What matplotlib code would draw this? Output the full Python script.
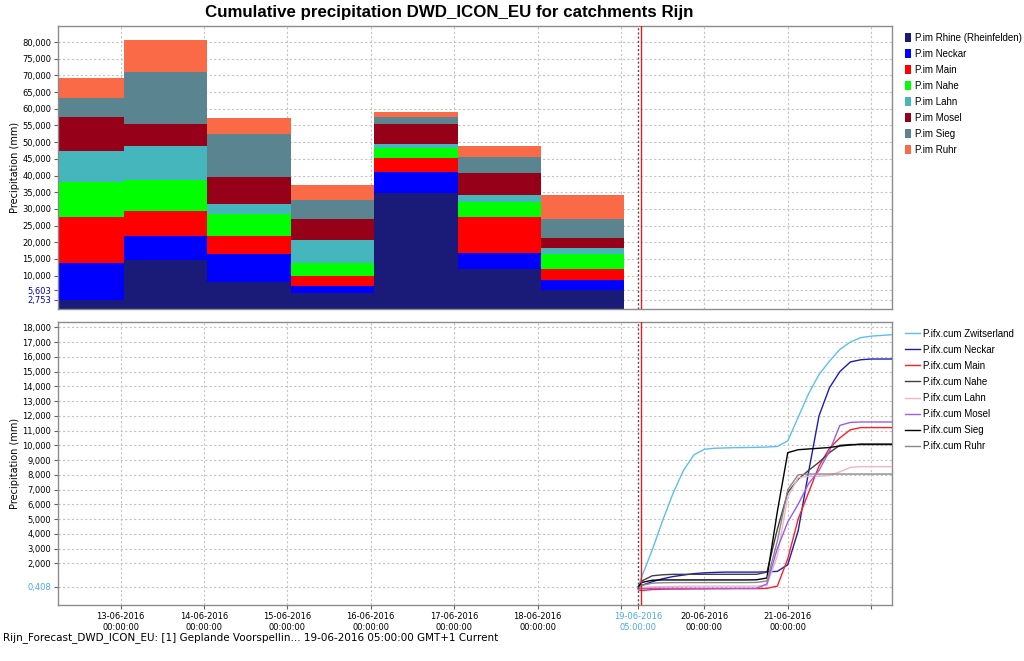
import matplotlib
matplotlib.use('Agg')
import matplotlib.pyplot as plt
import matplotlib.dates as mdates
from matplotlib.patches import Patch
from matplotlib.lines import Line2D
from datetime import datetime, timedelta

# ---------------- data ----------------
bar_starts = ['2016-06-12 01:00', '2016-06-13 01:00', '2016-06-14 01:00', '2016-06-15 01:00',
              '2016-06-16 01:00', '2016-06-17 01:00', '2016-06-18 01:00']
bar_names = ['P.im Rhine (Rheinfelden)', 'P.im Neckar', 'P.im Main', 'P.im Nahe',
             'P.im Lahn', 'P.im Mosel', 'P.im Sieg', 'P.im Ruhr']
rhine  = [2.753, 14.7, 8.2, 4.9, 34.7, 11.9, 5.603]
neckar = [11.05, 7.2, 8.3, 1.9, 6.4, 5.0, 3.0]
main_  = [13.8, 7.4, 5.4, 3.1, 4.2, 10.6, 3.3]
nahe   = [10.4, 9.5, 6.6, 3.8, 3.0, 4.6, 4.6]
lahn   = [9.4, 10.15, 3.0, 7.0, 1.2, 2.0, 1.9]
mosel  = [10.1, 6.55, 8.1, 6.3, 6.0, 6.8, 2.9]
sieg   = [5.7, 15.5, 12.9, 5.6, 2.0, 4.5, 5.8]
ruhr   = [6.0, 9.6, 4.7, 4.7, 1.5, 3.5, 7.2]
bar_colors = ['#1a1a78', '#0000ff', '#ff0000', '#00ff00', '#44b6bc', '#960018', '#5a8490', '#fa6a46']

# forecast: hours after 19-06-2016 00:00
fc_hours = [5, 6, 9, 12, 15, 18, 21, 24, 27, 30, 33, 36, 39, 42, 45, 48, 51, 54, 57, 60, 63, 66, 69, 72, 75, 78]
line_names = ['P.ifx.cum Zwitserland', 'P.ifx.cum Neckar', 'P.ifx.cum Main', 'P.ifx.cum Nahe',
              'P.ifx.cum Lahn', 'P.ifx.cum Mosel', 'P.ifx.cum Sieg', 'P.ifx.cum Ruhr']
zwitserland = [0.408, 1.1, 2.9, 4.9, 6.75, 8.3, 9.35, 9.73, 9.8, 9.82, 9.84, 9.85, 9.86, 9.88, 9.92,
               10.3, 11.9, 13.5, 14.8, 15.7, 16.5, 17.0, 17.3, 17.4, 17.45, 17.5]
f_neckar = [0.3, 0.5, 0.75, 0.95, 1.1, 1.2, 1.3, 1.35, 1.38, 1.4, 1.4, 1.4, 1.4, 1.42, 1.45,
            1.9, 4.2, 8.2, 12.0, 13.9, 15.0, 15.65, 15.8, 15.85, 15.85, 15.85]
f_main = [0.2, 0.15, 0.22, 0.24, 0.25, 0.25, 0.26, 0.26, 0.27, 0.27, 0.28, 0.28, 0.28, 0.3, 0.45,
          2.3, 5.0, 6.8, 8.6, 9.8, 10.5, 11.05, 11.2, 11.2, 11.2, 11.2]
f_nahe = [0.3, 0.8, 1.15, 1.22, 1.25, 1.25, 1.25, 1.25, 1.25, 1.25, 1.25, 1.25, 1.25, 1.4, 4.3,
          6.8, 7.7, 8.3, 8.85, 9.5, 10.0, 10.05, 10.05, 10.05, 10.05, 10.05]
f_lahn = [0.3, 0.35, 0.4, 0.42, 0.43, 0.44, 0.45, 0.45, 0.45, 0.45, 0.45, 0.45, 0.45, 0.5, 2.5,
          6.5, 7.8, 7.9, 7.9, 7.95, 8.2, 8.5, 8.55, 8.55, 8.55, 8.55]
f_mosel = [0.24, 0.28, 0.3, 0.3, 0.3, 0.3, 0.3, 0.3, 0.3, 0.3, 0.3, 0.3, 0.3, 0.6, 3.0,
           4.8, 6.0, 7.4, 8.3, 9.6, 11.35, 11.55, 11.58, 11.58, 11.58, 11.58]
f_sieg = [0.42, 0.7, 0.85, 0.87, 0.87, 0.87, 0.87, 0.87, 0.87, 0.87, 0.87, 0.87, 0.88, 1.0, 5.5,
          9.5, 9.7, 9.75, 9.8, 9.85, 9.95, 10.02, 10.08, 10.08, 10.08, 10.08]
f_ruhr = [0.3, 0.5, 0.65, 0.68, 0.69, 0.69, 0.69, 0.69, 0.69, 0.69, 0.69, 0.69, 0.7, 0.8, 3.5,
          7.0, 8.0, 8.05, 8.05, 8.05, 8.05, 8.05, 8.05, 8.05, 8.05, 8.05]
line_colors = ['#5cc0ec', '#1c1cb8', '#ff2020', '#404040', '#f4b4c8', '#9a5cf0', '#000000', '#888888']

top_yticks = [2.753, 5.603, 10, 15, 20, 25, 30, 35, 40, 45, 50, 55, 60, 65, 70, 75, 80]
bot_yticks = [0.408, 2, 3, 4, 5, 6, 7, 8, 9, 10, 11, 12, 13, 14, 15, 16, 17, 18]
day_ticks = ['2016-06-13', '2016-06-14', '2016-06-15', '2016-06-16', '2016-06-17',
             '2016-06-18', '2016-06-19', '2016-06-20', '2016-06-21', '2016-06-22']
forecast_time = '2016-06-19 05:00'
title = 'Cumulative precipitation DWD_ICON_EU for catchments Rijn'
footer = 'Rijn_Forecast_DWD_ICON_EU: [1] Geplande Voorspellin... 19-06-2016 05:00:00 GMT+1 Current'

# ---------------- figure ----------------
W, H = 1024, 661
fig = plt.figure(figsize=(W / 100, H / 100), dpi=100)
fig.patch.set_facecolor('white')
L, R = 58, 892
ax1 = fig.add_axes([L / W, 1 - 309 / H, (R - L) / W, (309 - 26) / H])
ax2 = fig.add_axes([L / W, 1 - 605 / H, (R - L) / W, (605 - 322) / H])

xmin = datetime(2016, 6, 12, 6)
xmax = datetime(2016, 6, 22, 6)
fmt = '%Y-%m-%d %H:%M'
t_fc = datetime.strptime(forecast_time, fmt)
days = [datetime.strptime(d, '%Y-%m-%d') for d in day_ticks]

grid_kw = dict(color='#c4c4c4', linestyle=(0, (2, 2)), linewidth=0.8)
tick_font = dict(fontsize=6, family='DejaVu Sans')
leg_family = ['Liberation Sans', 'DejaVu Sans']


def fmt_num(v):
    return f'{v:.3f}'.replace('.', ',')


# ---- top panel: stacked bars ----
series = [rhine, neckar, main_, nahe, lahn, mosel, sieg, ruhr]
starts = [mdates.date2num(datetime.strptime(s, fmt)) for s in bar_starts]
bottom = [0.0] * len(starts)
for vals, col, name in zip(series, bar_colors, bar_names):
    ax1.bar(starts, vals, width=1.0, bottom=bottom, align='edge', color=col,
            edgecolor='none', linewidth=0, label=name, zorder=2)
    bottom = [b + v for b, v in zip(bottom, vals)]

ax1.set_ylim(0, 84.8)
ax1.set_yticks(top_yticks)
ax1.set_yticklabels([fmt_num(v) for v in top_yticks], **tick_font)
for lbl, v in zip(ax1.get_yticklabels(), top_yticks):
    if v in (2.753, 5.603):
        lbl.set_color('#0000d0')

# ---- bottom panel: lines ----
fc_series = [zwitserland, f_neckar, f_main, f_nahe, f_lahn, f_mosel, f_sieg, f_ruhr]
t0 = datetime(2016, 6, 19)
fc_times = [t0 + timedelta(hours=h) for h in fc_hours]
for vals, col, name in zip(fc_series, line_colors, line_names):
    ax2.plot(fc_times, vals, color=col, linewidth=1.0, label=name, zorder=3)

ax2.set_ylim(-0.83, 18.36)
ax2.set_yticks(bot_yticks)
ax2.set_yticklabels([fmt_num(v) for v in bot_yticks], **tick_font)
ax2.get_yticklabels()[0].set_color('#4aa8e8')

# ---- shared styling ----
xt = days + [t_fc]
for ax in (ax1, ax2):
    ax.set_xlim(xmin, xmax)
    ax.set_xticks(xt)
    ax.set_axisbelow(True)
    ax.grid(True, **grid_kw)
    xg = ax.get_xgridlines()
    xg[-1].set_visible(False)
    ax.axvline(t_fc, color='#505050', linestyle=(0, (1.5, 1.5)), linewidth=1.0, zorder=4)
    ax.axvline(t_fc + timedelta(minutes=50), color='#e02020', linewidth=1.0, zorder=5)
    for s in ax.spines.values():
        s.set_color('#8c8c8c')
        s.set_linewidth(1.0)
    ax.tick_params(axis='both', length=3, width=0.8, color='#606060', pad=2)
    ax.set_ylabel('Precipitation (mm)', fontsize=7, family='DejaVu Sans')
    ax.yaxis.set_label_coords(-(L - 20) / (R - L), 0.5)

ax1.tick_params(axis='x', labelbottom=False, length=0)

xlabels = []
for d in days:
    if d.day in (19, 22):
        xlabels.append('')
    else:
        xlabels.append(d.strftime('%d-%m-%Y') + '\n00:00:00')
xlabels.append(t_fc.strftime('%d-%m-%Y') + '\n' + t_fc.strftime('%H:%M:%S'))
ax2.set_xticklabels(xlabels, fontsize=6, family='DejaVu Sans', linespacing=1.3)
ax2.get_xticklabels()[-1].set_color('#4aa8e8')

# ---- legends ----
h1 = [Patch(facecolor=c, edgecolor='none') for c in bar_colors]
leg1 = ax1.legend(h1, bar_names, loc='upper left', bbox_to_anchor=(1.008, 1.0),
                  frameon=False, prop=dict(size=7, family=leg_family),
                  handlelength=0.6, handleheight=1.0,
                  handletextpad=0.4, labelspacing=0.62, borderaxespad=0.3)
h2 = [Line2D([0], [0], color=c, linewidth=1.0) for c in line_colors]
leg2 = ax2.legend(h2, line_names, loc='upper left', bbox_to_anchor=(1.008, 1.0),
                  frameon=False, prop=dict(size=7, family=leg_family),
                  handlelength=1.5, handletextpad=0.3,
                  labelspacing=0.62, borderaxespad=0.3)

fig.text(449 / W, 1 - 12 / H, title, ha='center', va='center', fontsize=12.2,
         fontweight='bold', family=['Liberation Sans', 'DejaVu Sans'])
fig.text(3 / W, 1 - 638 / H, footer, ha='left', va='center', fontsize=7.5,
         family='DejaVu Sans')

fig.savefig('out.png', dpi=100, facecolor='white')
